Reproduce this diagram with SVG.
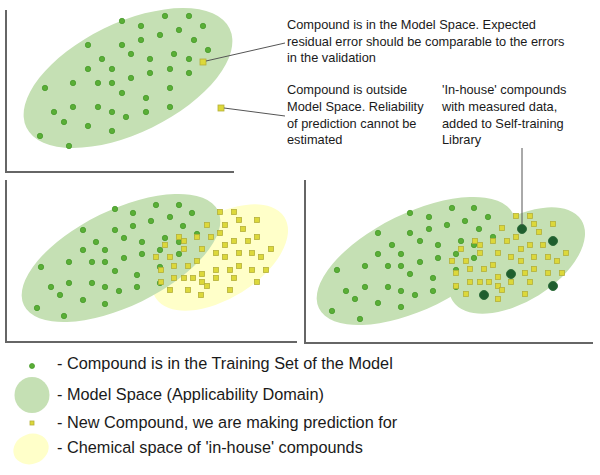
<svg xmlns="http://www.w3.org/2000/svg" xmlns:xlink="http://www.w3.org/1999/xlink" width="600" height="475" viewBox="0 0 600 475">
<style>
.ms{fill:#c5e0b4}
.ih{fill:#ffffc9}
.dot{fill:#5aae36;stroke:#479a2c;stroke-width:0.8}
.sq{fill:#dcd83a;stroke:#b4b03a;stroke-width:0.8}
.dk{fill:#1f5e2e;stroke:#2f6e3c;stroke-width:1}
.ax{fill:none;stroke:#666;stroke-width:2}
.ln{fill:none;stroke:#555;stroke-width:1}
.t{font-family:"Liberation Sans",Arial,sans-serif;font-size:12.8px;fill:#1a1a1a}
.lg{font-family:"Liberation Sans",Arial,sans-serif;font-size:16.3px;fill:#1a1a1a}
</style>
<defs>
<circle id="dt" r="2.7" class="dot"/>
<rect id="sq" x="-2.5" y="-2.5" width="5" height="5" class="sq"/>
<rect id="sq1" x="-3" y="-3" width="6" height="6" class="sq"/>
<circle id="dd" r="4.5" class="dk"/>
<g id="dots">
<use xlink:href="#dt" x="122" y="21"/><use xlink:href="#dt" x="165" y="16"/><use xlink:href="#dt" x="189" y="16"/>
<use xlink:href="#dt" x="141" y="26"/><use xlink:href="#dt" x="203" y="26"/><use xlink:href="#dt" x="179" y="30"/>
<use xlink:href="#dt" x="160" y="35"/><use xlink:href="#dt" x="88" y="45"/><use xlink:href="#dt" x="122" y="45"/>
<use xlink:href="#dt" x="141" y="40"/><use xlink:href="#dt" x="194" y="40"/><use xlink:href="#dt" x="208" y="50"/>
<use xlink:href="#dt" x="131" y="54"/><use xlink:href="#dt" x="174" y="54"/><use xlink:href="#dt" x="102" y="59"/>
<use xlink:href="#dt" x="150" y="59"/><use xlink:href="#dt" x="189" y="59"/><use xlink:href="#dt" x="88" y="69"/>
<use xlink:href="#dt" x="112" y="69"/><use xlink:href="#dt" x="170" y="69"/><use xlink:href="#dt" x="150" y="73"/>
<use xlink:href="#dt" x="189" y="73"/><use xlink:href="#dt" x="131" y="78"/><use xlink:href="#dt" x="73" y="83"/>
<use xlink:href="#dt" x="98" y="83"/><use xlink:href="#dt" x="112" y="83"/><use xlink:href="#dt" x="45" y="88"/>
<use xlink:href="#dt" x="122" y="93"/><use xlink:href="#dt" x="170" y="88"/><use xlink:href="#dt" x="146" y="98"/>
<use xlink:href="#dt" x="73" y="107"/><use xlink:href="#dt" x="98" y="107"/><use xlink:href="#dt" x="54" y="112"/>
<use xlink:href="#dt" x="112" y="112"/><use xlink:href="#dt" x="146" y="112"/><use xlink:href="#dt" x="170" y="107"/>
<use xlink:href="#dt" x="126" y="117"/><use xlink:href="#dt" x="64" y="122"/><use xlink:href="#dt" x="88" y="126"/>
<use xlink:href="#dt" x="112" y="131"/><use xlink:href="#dt" x="40" y="136"/><use xlink:href="#dt" x="69" y="146"/>
</g>
</defs>

<g id="panel1">
<ellipse class="ms" cx="128" cy="78" rx="113" ry="55" transform="rotate(-26 128 78)"/>
<use xlink:href="#dots"/>
<use xlink:href="#sq1" x="203" y="62"/>
<use xlink:href="#sq1" x="221" y="108"/>
<path class="ax" d="M6,10 V172 H234"/>
</g>

<g id="panel2">
<ellipse class="ih" cx="220" cy="257.5" rx="76" ry="41" transform="rotate(-32 220 257.5)"/>
<ellipse class="ms" cx="121" cy="258" rx="108" ry="48" transform="rotate(-26 121 258)"/>
<g id="dots2">
<use xlink:href="#dt" x="115" y="209"/><use xlink:href="#dt" x="156" y="205"/><use xlink:href="#dt" x="179" y="205"/>
<use xlink:href="#dt" x="133" y="213"/><use xlink:href="#dt" x="192" y="213"/><use xlink:href="#dt" x="170" y="217"/>
<use xlink:href="#dt" x="151" y="221"/><use xlink:href="#dt" x="83" y="230"/><use xlink:href="#dt" x="115" y="230"/>
<use xlink:href="#dt" x="133" y="226"/><use xlink:href="#dt" x="183" y="226"/><use xlink:href="#dt" x="197" y="234"/>
<use xlink:href="#dt" x="124" y="238"/><use xlink:href="#dt" x="165" y="238"/><use xlink:href="#dt" x="96" y="242"/>
<use xlink:href="#dt" x="142" y="242"/><use xlink:href="#dt" x="179" y="242"/><use xlink:href="#dt" x="83" y="250"/>
<use xlink:href="#dt" x="105" y="250"/><use xlink:href="#dt" x="160" y="250"/><use xlink:href="#dt" x="142" y="254"/>
<use xlink:href="#dt" x="179" y="254"/><use xlink:href="#dt" x="124" y="258"/><use xlink:href="#dt" x="69" y="262"/>
<use xlink:href="#dt" x="92" y="262"/><use xlink:href="#dt" x="105" y="262"/><use xlink:href="#dt" x="41" y="267"/>
<use xlink:href="#dt" x="115" y="271"/><use xlink:href="#dt" x="160" y="267"/><use xlink:href="#dt" x="137" y="275"/>
<use xlink:href="#dt" x="69" y="283"/><use xlink:href="#dt" x="92" y="283"/><use xlink:href="#dt" x="51" y="287"/>
<use xlink:href="#dt" x="105" y="287"/><use xlink:href="#dt" x="137" y="287"/><use xlink:href="#dt" x="160" y="283"/>
<use xlink:href="#dt" x="119" y="291"/><use xlink:href="#dt" x="60" y="295"/><use xlink:href="#dt" x="83" y="300"/>
<use xlink:href="#dt" x="105" y="304"/><use xlink:href="#dt" x="37" y="308"/><use xlink:href="#dt" x="64" y="316"/>
</g>
<g id="squares2">
<use xlink:href="#sq" x="220" y="212"/><use xlink:href="#sq" x="234" y="212"/><use xlink:href="#sq" x="239" y="220"/>
<use xlink:href="#sq" x="257" y="220"/><use xlink:href="#sq" x="207" y="225"/><use xlink:href="#sq" x="225" y="225"/>
<use xlink:href="#sq" x="243" y="229"/><use xlink:href="#sq" x="220" y="233"/><use xlink:href="#sq" x="179" y="237"/>
<use xlink:href="#sq" x="197" y="237"/><use xlink:href="#sq" x="211" y="237"/><use xlink:href="#sq" x="257" y="237"/>
<use xlink:href="#sq" x="184" y="241"/><use xlink:href="#sq" x="234" y="241"/><use xlink:href="#sq" x="248" y="241"/>
<use xlink:href="#sq" x="165" y="245"/><use xlink:href="#sq" x="225" y="245"/><use xlink:href="#sq" x="184" y="249"/>
<use xlink:href="#sq" x="202" y="249"/><use xlink:href="#sq" x="271" y="249"/><use xlink:href="#sq" x="216" y="253"/>
<use xlink:href="#sq" x="239" y="253"/><use xlink:href="#sq" x="252" y="253"/><use xlink:href="#sq" x="156" y="257"/>
<use xlink:href="#sq" x="170" y="257"/><use xlink:href="#sq" x="225" y="257"/><use xlink:href="#sq" x="261" y="257"/>
<use xlink:href="#sq" x="197" y="261"/><use xlink:href="#sq" x="174" y="266"/><use xlink:href="#sq" x="188" y="266"/>
<use xlink:href="#sq" x="239" y="266"/><use xlink:href="#sq" x="161" y="270"/><use xlink:href="#sq" x="216" y="270"/>
<use xlink:href="#sq" x="230" y="270"/><use xlink:href="#sq" x="252" y="270"/><use xlink:href="#sq" x="266" y="270"/>
<use xlink:href="#sq" x="202" y="274"/><use xlink:href="#sq" x="174" y="278"/><use xlink:href="#sq" x="184" y="278"/>
<use xlink:href="#sq" x="193" y="278"/><use xlink:href="#sq" x="216" y="278"/><use xlink:href="#sq" x="234" y="278"/>
<use xlink:href="#sq" x="161" y="282"/><use xlink:href="#sq" x="202" y="282"/><use xlink:href="#sq" x="257" y="282"/>
<use xlink:href="#sq" x="207" y="286"/><use xlink:href="#sq" x="170" y="290"/><use xlink:href="#sq" x="188" y="290"/>
<use xlink:href="#sq" x="230" y="290"/><use xlink:href="#sq" x="201" y="295"/>
</g>
<path class="ax" d="M6,180 V342 H297"/>
</g>

<g id="panel3">
<ellipse class="ms" cx="517" cy="260.5" rx="76" ry="41" transform="rotate(-32 517 260.5)"/>
<ellipse class="ms" cx="416" cy="261" rx="108" ry="48" transform="rotate(-26 416 261)"/>
<g id="dots3">
<use xlink:href="#dt" x="410" y="213"/><use xlink:href="#dt" x="452" y="208"/><use xlink:href="#dt" x="474" y="208"/>
<use xlink:href="#dt" x="429" y="217"/><use xlink:href="#dt" x="488" y="217"/><use xlink:href="#dt" x="465" y="221"/>
<use xlink:href="#dt" x="447" y="225"/><use xlink:href="#dt" x="378" y="233"/><use xlink:href="#dt" x="410" y="233"/>
<use xlink:href="#dt" x="429" y="229"/><use xlink:href="#dt" x="479" y="229"/><use xlink:href="#dt" x="493" y="237"/>
<use xlink:href="#dt" x="420" y="241"/><use xlink:href="#dt" x="461" y="241"/><use xlink:href="#dt" x="392" y="245"/>
<use xlink:href="#dt" x="438" y="245"/><use xlink:href="#dt" x="474" y="245"/><use xlink:href="#dt" x="378" y="254"/>
<use xlink:href="#dt" x="401" y="254"/><use xlink:href="#dt" x="456" y="254"/><use xlink:href="#dt" x="438" y="258"/>
<use xlink:href="#dt" x="474" y="258"/><use xlink:href="#dt" x="420" y="262"/><use xlink:href="#dt" x="365" y="266"/>
<use xlink:href="#dt" x="388" y="266"/><use xlink:href="#dt" x="401" y="266"/><use xlink:href="#dt" x="337" y="270"/>
<use xlink:href="#dt" x="410" y="274"/><use xlink:href="#dt" x="456" y="270"/><use xlink:href="#dt" x="433" y="278"/>
<use xlink:href="#dt" x="365" y="287"/><use xlink:href="#dt" x="388" y="287"/><use xlink:href="#dt" x="346" y="291"/>
<use xlink:href="#dt" x="401" y="291"/><use xlink:href="#dt" x="433" y="291"/><use xlink:href="#dt" x="456" y="287"/>
<use xlink:href="#dt" x="415" y="295"/><use xlink:href="#dt" x="355" y="299"/><use xlink:href="#dt" x="378" y="303"/>
<use xlink:href="#dt" x="401" y="307"/><use xlink:href="#dt" x="332" y="311"/><use xlink:href="#dt" x="360" y="319"/>
</g>
<g id="squares3">
<use xlink:href="#sq" x="516" y="216"/><use xlink:href="#sq" x="530" y="216"/><use xlink:href="#sq" x="534" y="224"/>
<use xlink:href="#sq" x="553" y="224"/><use xlink:href="#sq" x="502" y="228"/><use xlink:href="#sq" x="539" y="232"/>
<use xlink:href="#sq" x="516" y="237"/><use xlink:href="#sq" x="475" y="241"/><use xlink:href="#sq" x="493" y="241"/>
<use xlink:href="#sq" x="507" y="241"/><use xlink:href="#sq" x="480" y="245"/><use xlink:href="#sq" x="530" y="245"/>
<use xlink:href="#sq" x="543" y="245"/><use xlink:href="#sq" x="461" y="249"/><use xlink:href="#sq" x="521" y="249"/>
<use xlink:href="#sq" x="480" y="253"/><use xlink:href="#sq" x="498" y="253"/><use xlink:href="#sq" x="566" y="253"/>
<use xlink:href="#sq" x="511" y="257"/><use xlink:href="#sq" x="534" y="257"/><use xlink:href="#sq" x="548" y="257"/>
<use xlink:href="#sq" x="452" y="261"/><use xlink:href="#sq" x="466" y="261"/><use xlink:href="#sq" x="521" y="261"/>
<use xlink:href="#sq" x="557" y="261"/><use xlink:href="#sq" x="493" y="265"/><use xlink:href="#sq" x="470" y="269"/>
<use xlink:href="#sq" x="484" y="269"/><use xlink:href="#sq" x="534" y="269"/><use xlink:href="#sq" x="456" y="273"/>
<use xlink:href="#sq" x="525" y="273"/><use xlink:href="#sq" x="548" y="273"/><use xlink:href="#sq" x="562" y="273"/>
<use xlink:href="#sq" x="498" y="277"/><use xlink:href="#sq" x="470" y="282"/><use xlink:href="#sq" x="480" y="282"/>
<use xlink:href="#sq" x="489" y="282"/><use xlink:href="#sq" x="511" y="282"/><use xlink:href="#sq" x="530" y="282"/>
<use xlink:href="#sq" x="456" y="286"/><use xlink:href="#sq" x="498" y="286"/><use xlink:href="#sq" x="502" y="290"/>
<use xlink:href="#sq" x="466" y="294"/><use xlink:href="#sq" x="525" y="294"/><use xlink:href="#sq" x="498" y="299"/>
</g>
<g id="inhouse">
<use xlink:href="#dd" x="522" y="229"/><use xlink:href="#dd" x="553" y="241"/><use xlink:href="#dd" x="511" y="274"/>
<use xlink:href="#dd" x="553" y="286"/><use xlink:href="#dd" x="484" y="295"/>
</g>
<path class="ax" d="M305,180 V343 H593"/>
</g>

<g id="connectors">
<line class="ln" x1="206" y1="61" x2="285" y2="43"/>
<line class="ln" x1="224" y1="108" x2="285" y2="116"/>
<line class="ln" x1="522" y1="148" x2="522" y2="225"/>
</g>

<g id="label-in">
<text class="t" x="287" y="29">Compound is in the Model Space. Expected</text>
<text class="t" x="287" y="46">residual error should be comparable to the errors</text>
<text class="t" x="287" y="62">in the validation</text>
</g>
<g id="label-out">
<text class="t" x="287" y="94">Compound is outside</text>
<text class="t" x="287" y="111">Model Space. Reliability</text>
<text class="t" x="287" y="127.5">of prediction cannot be</text>
<text class="t" x="287" y="144">estimated</text>
</g>
<g id="label-inhouse">
<text class="t" x="442" y="94">'In-house' compounds</text>
<text class="t" x="442" y="111">with measured data,</text>
<text class="t" x="442" y="127.5">added to Self-training</text>
<text class="t" x="442" y="144">Library</text>
</g>

<g id="legend">
<circle cx="32" cy="366" r="2.5" class="dot"/>
<ellipse class="ms" cx="32" cy="395" rx="17.5" ry="18"/>
<rect x="30" y="421" width="4" height="4" class="sq"/>
<ellipse class="ih" cx="31" cy="449" rx="18" ry="15" transform="rotate(-20 31 449)"/>
<text class="lg" x="57" y="369">- Compound is in the Training Set of the Model</text>
<text class="lg" x="57" y="400">- Model Space (Applicability Domain)</text>
<text class="lg" x="57" y="428">- New Compound, we are making prediction for</text>
<text class="lg" x="57" y="453">- Chemical space of 'in-house' compounds</text>
</g>
</svg>
